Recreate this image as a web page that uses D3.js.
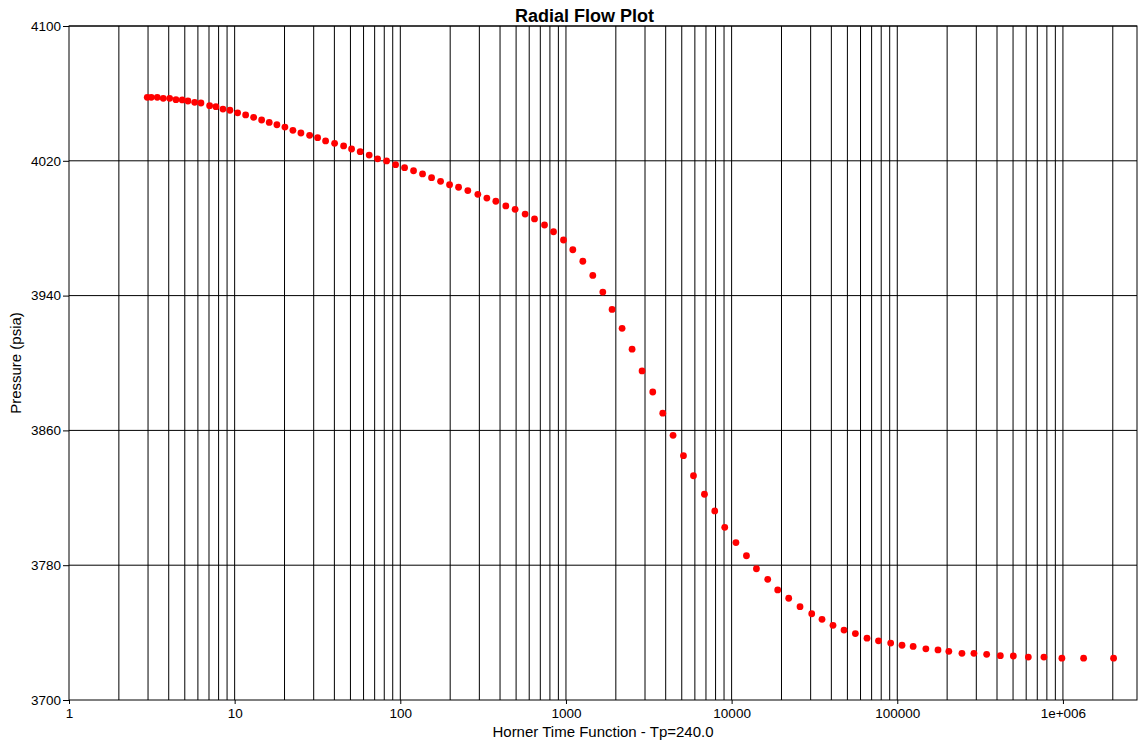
<!DOCTYPE html>
<html>
<head>
<meta charset="utf-8">
<script src="https://cdn.jsdelivr.net/npm/d3@7"></script>
<style>
  html, body { margin: 0; padding: 0; background: #fff; }
  svg { display: block; font-family: "Liberation Sans", Arial, sans-serif; }
</style>
</head>
<body>
<svg id="chart" width="1139" height="743"></svg>
<script>
// Horner time function values (x) and pressures (psia)
const hornerTime = [
  2.968, 3.137, 3.410, 3.707, 4.052, 4.422, 4.828, 5.225, 5.735, 6.258,
  7.063, 7.709, 8.498, 9.365, 10.42, 11.65, 13.02, 14.55, 16.17, 17.99,
  20.11, 22.47, 25.12, 28.35, 31.68, 35.40, 40.12, 45.47, 50.80, 57.26,
  64.89, 72.92, 82.63, 93.63, 106.1, 120.2, 136.2, 154.4, 175.0, 198.3,
  224.7, 255.6, 293.8, 333.0, 377.3, 433.5, 493.3, 566.8, 646.0, 742.3,
  841.2, 966.3, 1100, 1264, 1452, 1669, 1898, 2182, 2507, 2880,
  3342, 3840, 4431, 5121, 5885, 6855, 7910, 9088, 10620, 12290,
  14120, 16520, 18980, 22120, 25880, 30450, 35130, 40930, 47700, 55870,
  65660, 77020, 91250, 106800, 124700, 148800, 176100, 204800, 245700, 290200,
  346400, 419000, 501900, 618200, 767800, 985800, 1333000, 2022000
];
const pressure = [
  4057.7, 4057.7, 4057.7, 4057.1, 4057.1, 4056.3, 4056.1, 4055.5, 4054.7, 4054.3,
  4052.7, 4052.1, 4050.7, 4050.0, 4048.5, 4047.2, 4045.8, 4044.2, 4042.8, 4041.4,
  4040.0, 4038.1, 4036.5, 4035.1, 4033.7, 4031.8, 4030.4, 4028.8, 4027.0, 4025.4,
  4023.4, 4021.2, 4019.9, 4017.7, 4015.9, 4014.1, 4012.2, 4010.0, 4007.8, 4005.8,
  4004.3, 4002.3, 4000.1, 3997.9, 3996.0, 3993.2, 3991.2, 3988.4, 3985.5, 3981.9,
  3977.9, 3973.0, 3967.2, 3960.4, 3952.0, 3942.1, 3931.8, 3920.6, 3908.2, 3895.3,
  3882.8, 3870.2, 3857.1, 3845.0, 3833.1, 3822.1, 3812.2, 3802.5, 3793.4, 3785.6,
  3777.9, 3771.6, 3765.3, 3760.4, 3755.4, 3751.2, 3747.9, 3744.3, 3741.5, 3739.4,
  3736.7, 3735.1, 3733.8, 3732.5, 3731.8, 3730.4, 3729.7, 3728.9, 3727.7, 3727.7,
  3727.1, 3726.3, 3726.1, 3725.5, 3725.5, 3724.8, 3724.8, 3724.8
];
const xTickValues = [1, 10, 100, 1000, 10000, 100000, 1000000];
const xTickLabels = ["1", "10", "100", "1000", "10000", "100000", "1e+006"];
const yTickValues = [3700, 3780, 3860, 3940, 4020, 4100];
const yTickLabels = ["3700", "3780", "3860", "3940", "4020", "4100"];
const title = "Radial Flow Plot";
const xTitle = "Horner Time Function - Tp=240.0";
const yTitle = "Pressure (psia)";

const svg = d3.select("#chart");
const L = 69, R = 1137, T = 26, B = 700;

const x = d3.scaleLog().domain([1, 2.8e6]).range([L, R]);
const y = d3.scaleLinear().domain([3700, 4100]).range([B, T]);

// vertical grid (every 1..9 x 10^k)
const gridX = x.ticks().filter(v => v > 1);
svg.append("g").selectAll("line").data(gridX).join("line")
  .attr("x1", d => x(d)).attr("x2", d => x(d))
  .attr("y1", T).attr("y2", B)
  .attr("stroke", "#000").attr("stroke-width", 1);

// horizontal grid
svg.append("g").selectAll("line").data(yTickValues.filter(v => v > 3700)).join("line")
  .attr("x1", L).attr("x2", R)
  .attr("y1", d => y(d)).attr("y2", d => y(d))
  .attr("stroke", "#000").attr("stroke-width", 1);

// frame
svg.append("rect").attr("x", L).attr("y", T).attr("width", R - L).attr("height", B - T)
  .attr("fill", "none").attr("stroke", "#000").attr("stroke-width", 1);

// axes
const xAxis = d3.axisBottom(x).tickValues(xTickValues)
  .tickFormat((d, i) => xTickLabels[i]).tickSize(4).tickPadding(4);
const gx = svg.append("g").attr("transform", `translate(0,${B})`).call(xAxis);
gx.select(".domain").remove();
gx.selectAll("line").attr("stroke", "#000");
gx.selectAll("text").attr("font-size", "13.5px").attr("fill", "#000")
  .attr("font-family", "Liberation Sans, Arial, sans-serif");

const yAxis = d3.axisLeft(y).tickValues(yTickValues)
  .tickFormat((d, i) => yTickLabels[i]).tickSize(6).tickPadding(2);
const gy = svg.append("g").attr("transform", `translate(${L},0)`).call(yAxis);
gy.select(".domain").remove();
gy.selectAll("line").attr("stroke", "#000");
gy.selectAll("text").attr("font-size", "13.5px").attr("fill", "#000")
  .attr("font-family", "Liberation Sans, Arial, sans-serif");

// points
svg.append("g").selectAll("circle").data(hornerTime).join("circle")
  .attr("cx", d => x(d)).attr("cy", (d, i) => y(pressure[i]))
  .attr("r", 3.4).attr("fill", "#ff0000");

// titles
svg.append("text").attr("x", 584.5).attr("y", 22).attr("text-anchor", "middle")
  .attr("font-size", "18px").attr("font-weight", "bold").text(title);
svg.append("text").attr("x", (L + R) / 2).attr("y", 736.5).attr("text-anchor", "middle")
  .attr("font-size", "15px").text(xTitle);
svg.append("text").attr("transform", `translate(21,${(T + B) / 2}) rotate(-90)`)
  .attr("text-anchor", "middle").attr("font-size", "15px").text(yTitle);
</script>
</body>
</html>
